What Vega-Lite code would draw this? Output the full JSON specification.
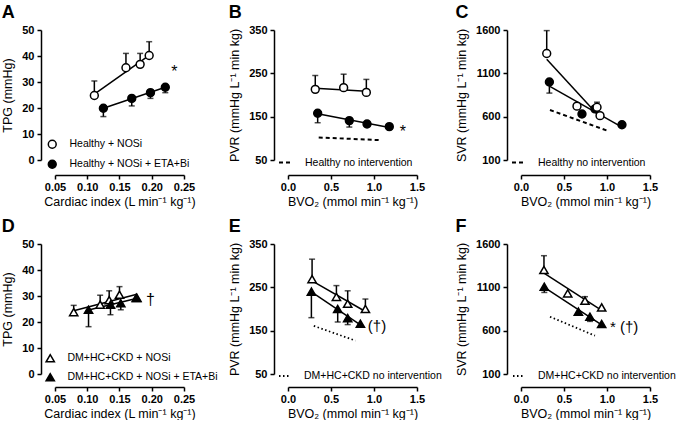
{
"$schema":"https://vega.github.io/schema/vega-lite/v6.json",
"padding":{"left":1,"top":4,"right":0,"bottom":0},
"background":"white",
"columns":3,
"bounds":"flush",
"spacing":{"row":84,"column":104},
"resolve":{"scale":{"fill":"independent","strokeDash":"independent"},"legend":{"fill":"independent","strokeDash":"independent"}},
"datasets":{
"A":[
{"k":"pt","s":"Healthy + NOSi","x":0.111,"y":24.8,"e":30.4},
{"k":"pt","s":"Healthy + NOSi","x":0.160,"y":35.5,"e":41.0},
{"k":"pt","s":"Healthy + NOSi","x":0.182,"y":36.8,"e":41.0},
{"k":"pt","s":"Healthy + NOSi","x":0.196,"y":40.2,"e":45.5},
{"k":"pt","s":"Healthy + NOSi + ETA+Bi","x":0.125,"y":19.9,"e":16.7},
{"k":"pt","s":"Healthy + NOSi + ETA+Bi","x":0.169,"y":23.7,"e":20.8},
{"k":"pt","s":"Healthy + NOSi + ETA+Bi","x":0.198,"y":25.9,"e":23.7},
{"k":"pt","s":"Healthy + NOSi + ETA+Bi","x":0.221,"y":28.0,"e":25.9},
{"k":"note","x":0.235,"y":34,"t":"*"}
],
"B":[
{"k":"pt","s":"Healthy + NOSi","x":0.317,"y":213,"e":245},
{"k":"pt","s":"Healthy + NOSi","x":0.647,"y":217,"e":248},
{"k":"pt","s":"Healthy + NOSi","x":0.911,"y":206,"e":236},
{"k":"pt","s":"Healthy + NOSi + ETA+Bi","x":0.345,"y":158,"e":136},
{"k":"pt","s":"Healthy + NOSi + ETA+Bi","x":0.713,"y":141,"e":126},
{"k":"pt","s":"Healthy + NOSi + ETA+Bi","x":0.919,"y":133,"e":null},
{"k":"pt","s":"Healthy + NOSi + ETA+Bi","x":1.178,"y":127,"e":null},
{"k":"ref","s":"Healthy no intervention","x":0.357,"y":102},
{"k":"ref","s":"Healthy no intervention","x":1.055,"y":96},
{"k":"note","x":1.337,"y":114,"t":"*"}
],
"C":[
{"k":"pt","s":"Healthy + NOSi + ETA+Bi","x":0.33,"y":1000,"e":872},
{"k":"pt","s":"Healthy + NOSi + ETA+Bi","x":0.709,"y":631,"e":null},
{"k":"pt","s":"Healthy + NOSi + ETA+Bi","x":0.86,"y":690,"e":null},
{"k":"pt","s":"Healthy + NOSi + ETA+Bi","x":1.174,"y":507,"e":null},
{"k":"pt","s":"Healthy + NOSi","x":0.299,"y":1329,"e":1593},
{"k":"pt","s":"Healthy + NOSi","x":0.651,"y":721,"e":null},
{"k":"pt","s":"Healthy + NOSi","x":0.884,"y":709,"e":767},
{"k":"pt","s":"Healthy + NOSi","x":0.919,"y":612,"e":null},
{"k":"ref","s":"Healthy no intervention","x":0.337,"y":677},
{"k":"ref","s":"Healthy no intervention","x":1.008,"y":437}
],
"D":[
{"k":"pt","s":"DM+HC+CKD + NOSi","x":0.079,"y":23.8,"e":26.4},
{"k":"pt","s":"DM+HC+CKD + NOSi","x":0.120,"y":26.7,"e":30.3},
{"k":"pt","s":"DM+HC+CKD + NOSi","x":0.134,"y":28.4,"e":32.0},
{"k":"pt","s":"DM+HC+CKD + NOSi","x":0.150,"y":30.5,"e":33.6},
{"k":"pt","s":"DM+HC+CKD + NOSi","x":0.177,"y":29.3,"e":null},
{"k":"pt","s":"DM+HC+CKD + NOSi + ETA+Bi","x":0.102,"y":24.7,"e":18.2},
{"k":"pt","s":"DM+HC+CKD + NOSi + ETA+Bi","x":0.136,"y":26.7,"e":22.8},
{"k":"pt","s":"DM+HC+CKD + NOSi + ETA+Bi","x":0.152,"y":27.2,"e":24.7},
{"k":"pt","s":"DM+HC+CKD + NOSi + ETA+Bi","x":0.176,"y":29.3,"e":null},
{"k":"note","x":0.198,"y":28.5,"t":"†"}
],
"E":[
{"k":"pt","s":"DM+HC+CKD + NOSi","x":0.28,"y":269,"e":315},
{"k":"pt","s":"DM+HC+CKD + NOSi","x":0.563,"y":228,"e":254},
{"k":"pt","s":"DM+HC+CKD + NOSi","x":0.694,"y":212,"e":242},
{"k":"pt","s":"DM+HC+CKD + NOSi","x":0.9,"y":200,"e":223},
{"k":"pt","s":"DM+HC+CKD + NOSi + ETA+Bi","x":0.272,"y":240,"e":180},
{"k":"pt","s":"DM+HC+CKD + NOSi + ETA+Bi","x":0.578,"y":200,"e":170},
{"k":"pt","s":"DM+HC+CKD + NOSi + ETA+Bi","x":0.694,"y":179,"e":164},
{"k":"pt","s":"DM+HC+CKD + NOSi + ETA+Bi","x":0.842,"y":166,"e":null},
{"k":"ref","s":"DM+HC+CKD no intervention","x":0.3,"y":161},
{"k":"ref","s":"DM+HC+CKD no intervention","x":0.784,"y":127},
{"k":"note","x":1.035,"y":160,"t":"(†)"}
],
"F":[
{"k":"pt","s":"DM+HC+CKD + NOSi","x":0.267,"y":1300,"e":1465},
{"k":"pt","s":"DM+HC+CKD + NOSi","x":0.543,"y":1030,"e":null},
{"k":"pt","s":"DM+HC+CKD + NOSi","x":0.744,"y":946,"e":992},
{"k":"pt","s":"DM+HC+CKD + NOSi","x":0.938,"y":868,"e":null},
{"k":"pt","s":"DM+HC+CKD + NOSi + ETA+Bi","x":0.271,"y":1107,"e":1041},
{"k":"pt","s":"DM+HC+CKD + NOSi + ETA+Bi","x":0.667,"y":819,"e":null},
{"k":"pt","s":"DM+HC+CKD + NOSi + ETA+Bi","x":0.802,"y":761,"e":707},
{"k":"pt","s":"DM+HC+CKD + NOSi + ETA+Bi","x":0.938,"y":677,"e":null},
{"k":"ref","s":"DM+HC+CKD no intervention","x":0.337,"y":761},
{"k":"ref","s":"DM+HC+CKD no intervention","x":0.86,"y":542},
{"k":"note","x":1.2,"y":640,"t":"* (†)"}
]
},
"concat":[
{
"width":129,"height":130,
"title":{"text":"A"},
"data":{"name":"A"},
"encoding":{
"x":{"field":"x","type":"quantitative","scale":{"domain":[0.05,0.25],"nice":false,"zero":false},"axis":{"values":[0.05,0.1,0.15,0.2,0.25],"format":".2f","title":"Cardiac index (L min⁻¹ kg⁻¹)","offset":15}},
"y":{"field":"y","type":"quantitative","scale":{"domain":[0,50],"nice":false,"zero":false},"axis":{"values":[0,10,20,30,40,50],"title":"TPG (mmHg)","offset":14}}
},
"layer":[
{"transform":[{"filter":"datum.k=='pt' && datum.e!=null"}],"mark":{"type":"rule","color":"black","strokeWidth":1.5},"encoding":{"y2":{"field":"e"}}},
{"transform":[{"filter":"datum.k=='pt' && datum.e!=null"}],"mark":{"type":"tick","orient":"horizontal","color":"black","size":6,"thickness":1.5},"encoding":{"y":{"field":"e","type":"quantitative","scale":{"domain":[0,50],"nice":false,"zero":false},"axis":{"values":[0,10,20,30,40,50],"title":"TPG (mmHg)","offset":14}}}},
{"transform":[{"filter":"datum.k=='pt'"},{"regression":"y","on":"x","groupby":["s"]}],"mark":{"type":"line","color":"black","strokeWidth":1.5},"encoding":{"detail":{"field":"s"}}},
{"transform":[{"filter":"datum.k=='pt'"}],"mark":{"type":"point","shape":"circle","filled":true,"stroke":"black","strokeWidth":1.5,"size":62,"opacity":1},"encoding":{"fill":{"field":"s","type":"nominal","scale":{"domain":["Healthy + NOSi","Healthy + NOSi + ETA+Bi"],"range":["white","black"]},"legend":{"title":null,"orient":"none","legendX":-8,"legendY":109,"symbolType":"circle","symbolSize":62,"symbolStrokeColor":"black","symbolStrokeWidth":1.5}}}},
{"transform":[{"filter":"datum.k=='note'"}],"mark":{"type":"text","fontSize":16,"font":"Liberation Sans","color":"black"},"encoding":{"text":{"field":"t"}}}
]
},
{
"width":129,"height":130,
"title":{"text":"B"},
"data":{"name":"B"},
"encoding":{
"x":{"field":"x","type":"quantitative","scale":{"domain":[0,1.5],"nice":false,"zero":false},"axis":{"values":[0,0.5,1,1.5],"format":".1f","title":"BVO₂ (mmol min⁻¹ kg⁻¹)","offset":15}},
"y":{"field":"y","type":"quantitative","scale":{"domain":[50,350],"nice":false,"zero":false},"axis":{"values":[50,150,250,350],"title":"PVR (mmHg L⁻¹ min kg)","offset":14}}
},
"layer":[
{"transform":[{"filter":"datum.k=='pt' && datum.e!=null"}],"mark":{"type":"rule","color":"black","strokeWidth":1.5},"encoding":{"y2":{"field":"e"}}},
{"transform":[{"filter":"datum.k=='pt' && datum.e!=null"}],"mark":{"type":"tick","orient":"horizontal","color":"black","size":6,"thickness":1.5},"encoding":{"y":{"field":"e","type":"quantitative","scale":{"domain":[50,350],"nice":false,"zero":false},"axis":{"values":[50,150,250,350],"title":"PVR (mmHg L⁻¹ min kg)","offset":14}}}},
{"transform":[{"filter":"datum.k=='pt'"},{"regression":"y","on":"x","groupby":["s"]}],"mark":{"type":"line","color":"black","strokeWidth":1.5},"encoding":{"detail":{"field":"s"}}},
{"transform":[{"filter":"datum.k=='ref'"}],"mark":{"type":"line","color":"black","strokeWidth":2},"encoding":{"strokeDash":{"field":"s","type":"nominal","scale":{"domain":["Healthy no intervention"],"range":[[4,3]]},"legend":{"title":null,"orient":"none","legendX":-10,"legendY":125,"symbolType":"stroke","symbolSize":169,"symbolStrokeColor":"black","symbolStrokeWidth":2}}}},
{"transform":[{"filter":"datum.k=='pt'"}],"mark":{"type":"point","shape":"circle","filled":true,"stroke":"black","strokeWidth":1.5,"size":62,"opacity":1},"encoding":{"fill":{"field":"s","type":"nominal","scale":{"domain":["Healthy + NOSi","Healthy + NOSi + ETA+Bi"],"range":["white","black"]},"legend":null}}},
{"transform":[{"filter":"datum.k=='note'"}],"mark":{"type":"text","fontSize":16,"font":"Liberation Sans","color":"black"},"encoding":{"text":{"field":"t"}}}
]
},
{
"width":129,"height":130,
"title":{"text":"C"},
"data":{"name":"C"},
"encoding":{
"x":{"field":"x","type":"quantitative","scale":{"domain":[0,1.5],"nice":false,"zero":false},"axis":{"values":[0,0.5,1,1.5],"format":".1f","title":"BVO₂ (mmol min⁻¹ kg⁻¹)","offset":15}},
"y":{"field":"y","type":"quantitative","scale":{"domain":[100,1600],"nice":false,"zero":false},"axis":{"values":[100,600,1100,1600],"format":"d","title":"SVR (mmHg L⁻¹ min kg)","offset":14}}
},
"layer":[
{"transform":[{"filter":"datum.k=='pt' && datum.e!=null"}],"mark":{"type":"rule","color":"black","strokeWidth":1.5},"encoding":{"y2":{"field":"e"}}},
{"transform":[{"filter":"datum.k=='pt' && datum.e!=null"}],"mark":{"type":"tick","orient":"horizontal","color":"black","size":6,"thickness":1.5},"encoding":{"y":{"field":"e","type":"quantitative","scale":{"domain":[100,1600],"nice":false,"zero":false},"axis":{"values":[100,600,1100,1600],"format":"d","title":"SVR (mmHg L⁻¹ min kg)","offset":14}}}},
{"transform":[{"filter":"datum.k=='pt'"},{"regression":"y","on":"x","groupby":["s"]}],"mark":{"type":"line","color":"black","strokeWidth":1.5},"encoding":{"detail":{"field":"s"}}},
{"transform":[{"filter":"datum.k=='ref'"}],"mark":{"type":"line","color":"black","strokeWidth":2},"encoding":{"strokeDash":{"field":"s","type":"nominal","scale":{"domain":["Healthy no intervention"],"range":[[4,3]]},"legend":{"title":null,"orient":"none","legendX":-10,"legendY":125,"symbolType":"stroke","symbolSize":169,"symbolStrokeColor":"black","symbolStrokeWidth":2}}}},
{"transform":[{"filter":"datum.k=='pt'"}],"mark":{"type":"point","shape":"circle","filled":true,"stroke":"black","strokeWidth":1.5,"size":62,"opacity":1},"encoding":{"fill":{"field":"s","type":"nominal","scale":{"domain":["Healthy + NOSi","Healthy + NOSi + ETA+Bi"],"range":["white","black"]},"legend":null}}}
]
},
{
"width":129,"height":130,
"title":{"text":"D"},
"data":{"name":"D"},
"encoding":{
"x":{"field":"x","type":"quantitative","scale":{"domain":[0.05,0.25],"nice":false,"zero":false},"axis":{"values":[0.05,0.1,0.15,0.2,0.25],"format":".2f","title":"Cardiac index (L min⁻¹ kg⁻¹)","offset":13}},
"y":{"field":"y","type":"quantitative","scale":{"domain":[0,50],"nice":false,"zero":false},"axis":{"values":[0,10,20,30,40,50],"title":"TPG (mmHg)","offset":14}}
},
"layer":[
{"transform":[{"filter":"datum.k=='pt' && datum.e!=null"}],"mark":{"type":"rule","color":"black","strokeWidth":1.5},"encoding":{"y2":{"field":"e"}}},
{"transform":[{"filter":"datum.k=='pt' && datum.e!=null"}],"mark":{"type":"tick","orient":"horizontal","color":"black","size":6,"thickness":1.5},"encoding":{"y":{"field":"e","type":"quantitative","scale":{"domain":[0,50],"nice":false,"zero":false},"axis":{"values":[0,10,20,30,40,50],"title":"TPG (mmHg)","offset":14}}}},
{"transform":[{"filter":"datum.k=='pt'"},{"regression":"y","on":"x","groupby":["s"]}],"mark":{"type":"line","color":"black","strokeWidth":1.5},"encoding":{"detail":{"field":"s"}}},
{"transform":[{"filter":"datum.k=='pt'"}],"mark":{"type":"point","shape":"triangle-up","filled":true,"stroke":"black","strokeWidth":1.5,"size":68,"opacity":1},"encoding":{"fill":{"field":"s","type":"nominal","scale":{"domain":["DM+HC+CKD + NOSi","DM+HC+CKD + NOSi + ETA+Bi"],"range":["white","black"]},"legend":{"title":null,"orient":"none","legendX":-10,"legendY":109,"symbolType":"triangle-up","symbolSize":68,"symbolStrokeColor":"black","symbolStrokeWidth":1.5}}}},
{"transform":[{"filter":"datum.k=='note'"}],"mark":{"type":"text","fontSize":16,"font":"Liberation Sans","color":"black"},"encoding":{"text":{"field":"t"}}}
]
},
{
"width":129,"height":130,
"title":{"text":"E"},
"data":{"name":"E"},
"encoding":{
"x":{"field":"x","type":"quantitative","scale":{"domain":[0,1.5],"nice":false,"zero":false},"axis":{"values":[0,0.5,1,1.5],"format":".1f","title":"BVO₂ (mmol min⁻¹ kg⁻¹)","offset":13}},
"y":{"field":"y","type":"quantitative","scale":{"domain":[50,350],"nice":false,"zero":false},"axis":{"values":[50,150,250,350],"title":"PVR (mmHg L⁻¹ min kg)","offset":14}}
},
"layer":[
{"transform":[{"filter":"datum.k=='pt' && datum.e!=null"}],"mark":{"type":"rule","color":"black","strokeWidth":1.5},"encoding":{"y2":{"field":"e"}}},
{"transform":[{"filter":"datum.k=='pt' && datum.e!=null"}],"mark":{"type":"tick","orient":"horizontal","color":"black","size":6,"thickness":1.5},"encoding":{"y":{"field":"e","type":"quantitative","scale":{"domain":[50,350],"nice":false,"zero":false},"axis":{"values":[50,150,250,350],"title":"PVR (mmHg L⁻¹ min kg)","offset":14}}}},
{"transform":[{"filter":"datum.k=='pt'"},{"regression":"y","on":"x","groupby":["s"]}],"mark":{"type":"line","color":"black","strokeWidth":1.5},"encoding":{"detail":{"field":"s"}}},
{"transform":[{"filter":"datum.k=='ref'"}],"mark":{"type":"line","color":"black","strokeWidth":1.8},"encoding":{"strokeDash":{"field":"s","type":"nominal","scale":{"domain":["DM+HC+CKD no intervention"],"range":[[1.5,2.5]]},"legend":{"title":null,"orient":"none","legendX":-10,"legendY":125,"symbolType":"stroke","symbolSize":144,"symbolStrokeColor":"black","symbolStrokeWidth":1.8}}}},
{"transform":[{"filter":"datum.k=='pt'"}],"mark":{"type":"point","shape":"triangle-up","filled":true,"stroke":"black","strokeWidth":1.5,"size":68,"opacity":1},"encoding":{"fill":{"field":"s","type":"nominal","scale":{"domain":["DM+HC+CKD + NOSi","DM+HC+CKD + NOSi + ETA+Bi"],"range":["white","black"]},"legend":null}}},
{"transform":[{"filter":"datum.k=='note'"}],"mark":{"type":"text","fontSize":15,"font":"Liberation Sans","color":"black"},"encoding":{"text":{"field":"t"}}}
]
},
{
"width":129,"height":130,
"title":{"text":"F"},
"data":{"name":"F"},
"encoding":{
"x":{"field":"x","type":"quantitative","scale":{"domain":[0,1.5],"nice":false,"zero":false},"axis":{"values":[0,0.5,1,1.5],"format":".1f","title":"BVO₂ (mmol min⁻¹ kg⁻¹)","offset":13}},
"y":{"field":"y","type":"quantitative","scale":{"domain":[100,1600],"nice":false,"zero":false},"axis":{"values":[100,600,1100,1600],"format":"d","title":"SVR (mmHg L⁻¹ min kg)","offset":14}}
},
"layer":[
{"transform":[{"filter":"datum.k=='pt' && datum.e!=null"}],"mark":{"type":"rule","color":"black","strokeWidth":1.5},"encoding":{"y2":{"field":"e"}}},
{"transform":[{"filter":"datum.k=='pt' && datum.e!=null"}],"mark":{"type":"tick","orient":"horizontal","color":"black","size":6,"thickness":1.5},"encoding":{"y":{"field":"e","type":"quantitative","scale":{"domain":[100,1600],"nice":false,"zero":false},"axis":{"values":[100,600,1100,1600],"format":"d","title":"SVR (mmHg L⁻¹ min kg)","offset":14}}}},
{"transform":[{"filter":"datum.k=='pt'"},{"regression":"y","on":"x","groupby":["s"]}],"mark":{"type":"line","color":"black","strokeWidth":1.5},"encoding":{"detail":{"field":"s"}}},
{"transform":[{"filter":"datum.k=='ref'"}],"mark":{"type":"line","color":"black","strokeWidth":1.8},"encoding":{"strokeDash":{"field":"s","type":"nominal","scale":{"domain":["DM+HC+CKD no intervention"],"range":[[1.5,2.5]]},"legend":{"title":null,"orient":"none","legendX":-9,"legendY":125,"symbolType":"stroke","symbolSize":144,"symbolStrokeColor":"black","symbolStrokeWidth":1.8}}}},
{"transform":[{"filter":"datum.k=='pt'"}],"mark":{"type":"point","shape":"triangle-up","filled":true,"stroke":"black","strokeWidth":1.5,"size":68,"opacity":1},"encoding":{"fill":{"field":"s","type":"nominal","scale":{"domain":["DM+HC+CKD + NOSi","DM+HC+CKD + NOSi + ETA+Bi"],"range":["white","black"]},"legend":null}}},
{"transform":[{"filter":"datum.k=='note'"}],"mark":{"type":"text","fontSize":15,"font":"Liberation Sans","color":"black"},"encoding":{"text":{"field":"t"}}}
]
}
],
"config":{
"view":{"stroke":null},
"font":"Liberation Sans",
"axis":{"domainColor":"black","domainWidth":1.5,"tickColor":"black","tickWidth":1.5,"tickSize":4,"labelFont":"Liberation Sans","labelFontSize":11,"labelFontWeight":"bold","labelColor":"black","labelPadding":3,"titleFont":"Liberation Sans","titleFontSize":12.5,"titleFontWeight":"normal","titleColor":"black","grid":false,"labelFlush":false,"labelOverlap":false},
"axisX":{"titlePadding":3,"labelPadding":2},
"axisY":{"titlePadding":7},
"legend":{"labelFont":"Liberation Sans","labelFontSize":10.5,"labelColor":"black","padding":0,"rowPadding":5,"labelOffset":12,"symbolOpacity":1},
"title":{"anchor":"start","frame":"bounds","fontSize":18,"fontWeight":"bold","font":"Liberation Sans","color":"black","offset":2}
}
}
